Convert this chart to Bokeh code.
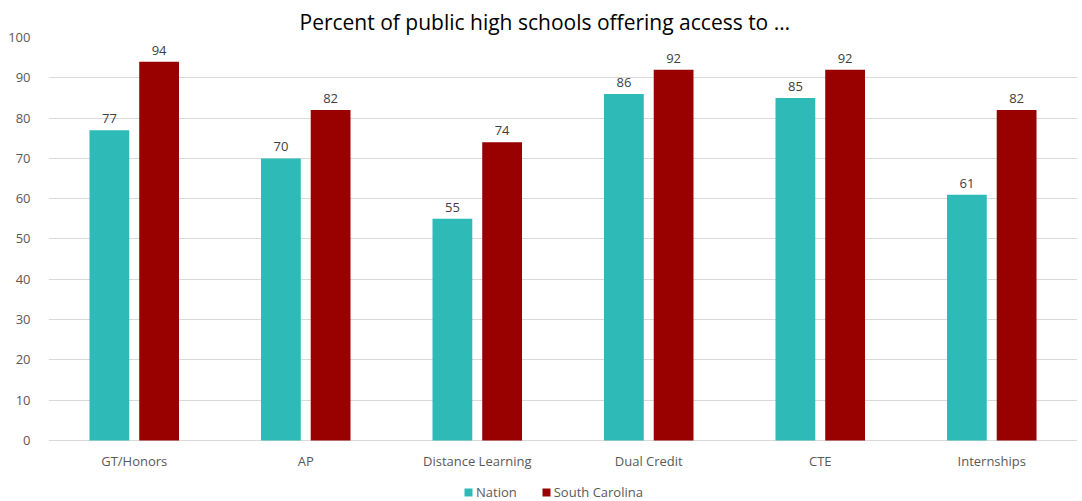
from bokeh.plotting import figure
from bokeh.models import ColumnDataSource, FactorRange, Legend, LegendItem, Range1d, FixedTicker
from bokeh.core.properties import value
from bokeh.transform import dodge
from bokeh.embed import file_html
from bokeh.resources import INLINE

categories = ["GT/Honors", "AP", "Distance Learning", "Dual Credit", "CTE", "Internships"]
nation = [77, 70, 55, 86, 85, 61]
south_carolina = [94, 82, 74, 92, 92, 82]
y_ticks = [0, 10, 20, 30, 40, 50, 60, 70, 80, 90, 100]

TEAL = "#2EBBB8"
RED = "#990000"
FONT = "Open Sans"

src = ColumnDataSource(dict(
    cat=categories, nation=nation, sc=south_carolina, base=[0] * len(categories),
    nl=[str(v) for v in nation], sl=[str(v) for v in south_carolina],
))

# frame spans from the top margin to the bottom of the page; the space under 0
# holds the category labels and the legend (so the legend is not clipped)
p = figure(x_range=FactorRange(*categories, range_padding=0), y_range=Range1d(-15.14, 100),
           width=1082, height=501, output_backend="svg", toolbar_location=None,
           min_border_left=48, min_border_right=5, min_border_top=37, min_border_bottom=0)
p.outline_line_color = None
p.background_fill_color = "white"

p.title.text = "Percent of public high schools offering access to …"
p.title.align = "left"
p.title.offset = 251
p.title.standoff = 4
p.title.text_font = FONT
p.title.text_font_size = "21px"
p.title.text_font_style = "normal"
p.title.text_color = "#000000"

r1 = p.vbar(x=dodge("cat", -0.145, range=p.x_range), top="nation", width=0.232, source=src,
            fill_color=TEAL, line_color=None)
r2 = p.vbar(x=dodge("cat", 0.145, range=p.x_range), top="sc", width=0.232, source=src,
            fill_color=RED, line_color=None)

p.text(x=dodge("cat", -0.145, range=p.x_range), y="nation", text="nl", source=src,
       text_align="center", text_baseline="bottom", y_offset=-7,
       text_font=value(FONT), text_font_size="13px", text_color="#404040")
p.text(x=dodge("cat", 0.145, range=p.x_range), y="sc", text="sl", source=src,
       text_align="center", text_baseline="bottom", y_offset=-7,
       text_font=value(FONT), text_font_size="13px", text_color="#404040")

# category labels under the zero line
p.text(x="cat", y="base", text="cat", source=src,
       text_align="center", text_baseline="middle", y_offset=21,
       text_font=value(FONT), text_font_size="13px", text_color="#595959")

p.xaxis.visible = False

p.yaxis.ticker = FixedTicker(ticks=y_ticks)
p.yaxis.axis_line_color = None
p.yaxis.major_tick_line_color = None
p.yaxis.minor_tick_line_color = None
p.yaxis.major_label_text_font = FONT
p.yaxis.major_label_text_font_size = "13px"
p.yaxis.major_label_text_color = "#595959"
p.yaxis.major_label_standoff = 12

p.xgrid.grid_line_color = None
p.ygrid.grid_line_color = "#D9D9D9"
p.ygrid.ticker = FixedTicker(ticks=y_ticks)

legend = Legend(items=[LegendItem(label="Nation", renderers=[r1]),
                       LegendItem(label="South Carolina", renderers=[r2])],
                orientation="horizontal", location=(415, 0),
                label_text_font=FONT, label_text_font_size="13px", label_text_color="#595959",
                glyph_width=10, glyph_height=10, spacing=24, padding=2, margin=0,
                label_standoff=3, border_line_color=None, background_fill_alpha=0)
p.add_layout(legend, "center")

open("out.html", "w").write(file_html(p, INLINE))
